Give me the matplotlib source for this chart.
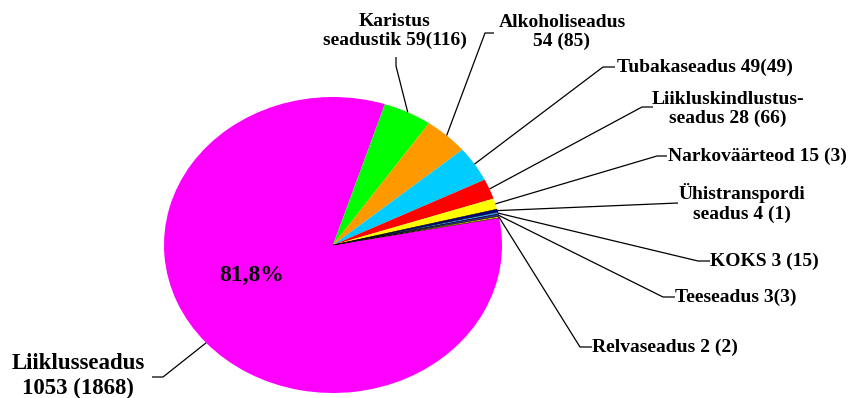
import numpy as np
import matplotlib.pyplot as plt

# offences by law: count this year (count last year in brackets)
labels = ["Liiklusseadus\n1053 (1868)", "Karistus\nseadustik 59(116)", "Alkoholiseadus\n54 (85)",
          "Tubakaseadus 49(49)", "Liikluskindlustus-\nseadus 28 (66)", "Narkoväärteod 15 (3)",
          "Ühistranspordi\nseadus 4 (1)", "KOKS 3 (15)", "Teeseadus 3(3)", "Relvaseadus 2 (2)"]
values = [1053, 59, 54, 49, 28, 15, 4, 3, 3, 2]
colors = ["#FF00FF", "#00FF00", "#FF9900", "#00CCFF", "#FF0000", "#FFFF00",
          "#000080", "#3399FF", "#333399", "#FFFF00"]
share_text = "81,8%"

W, H = 850, 398
cx, cy, rx, ry = 333, 245, 169, 148

fig = plt.figure(figsize=(W / 100, H / 100), dpi=100)

# the pie lives in its own axes so that it can be squashed into an ellipse
pie_ax = fig.add_axes([(cx - rx) / W, (H - cy - ry) / H, 2 * rx / W, 2 * ry / H])
wedges, _ = pie_ax.pie(values, colors=colors, startangle=10.6, counterclock=False,
                       wedgeprops=dict(linewidth=0))
for w, v in zip(wedges, values):
    if v < 10:
        w.set_edgecolor("#000000")
        w.set_linewidth(0.4)
pie_ax.set_aspect("auto")
pie_ax.set_xlim(-1, 1)
pie_ax.set_ylim(-1, 1)
pie_ax.axis("off")

# overlay in pixel coordinates for leader lines and labels
ov = fig.add_axes([0, 0, 1, 1])
ov.set_xlim(0, W)
ov.set_ylim(H, 0)
ov.axis("off")
ov.patch.set_alpha(0)

# (leader points after the wedge edge, text x, text y, alignment, font size)
layout = [
    ([(163, 377), (152, 377)], 78, 376, "center", 16.5),
    ([(396, 66), (396, 57)], 395, 31, "center", 14),
    ([(485, 33), (494, 33)], 562, 32, "center", 14),
    ([(603, 67), (615, 67)], 617, 67, "left", 14),
    ([(642, 107), (653, 107)], 728, 109, "center", 14),
    ([(657, 156), (667, 156)], 668, 156, "left", 14),
    ([(678, 203)], 742, 203, "center", 14),
    ([(698, 261), (710, 261)], 710, 261, "left", 14),
    ([(663, 297), (675, 297)], 675, 297, "left", 14),
    ([(580, 347), (592, 347)], 592, 347, "left", 14),
]

for w, lab, (pts, tx, ty, ha, fs) in zip(wedges, labels, layout):
    mid = np.deg2rad((w.theta1 + w.theta2) / 2)
    ex = cx + rx * np.cos(mid)
    ey = cy - ry * np.sin(mid)
    xs = [ex] + [p[0] for p in pts]
    ys = [ey] + [p[1] for p in pts]
    ov.plot(xs, ys, color="black", lw=0.9, solid_capstyle="butt")
    ov.text(tx, ty, lab, ha=ha, va="center", linespacing=1.18,
            family="Liberation Serif", weight="bold", size=fs, color="black")

ov.text(252, 275, share_text, ha="center", va="center",
        family="Liberation Serif", weight="bold", size=17, color="black")

fig.savefig("out.png", dpi=100)
